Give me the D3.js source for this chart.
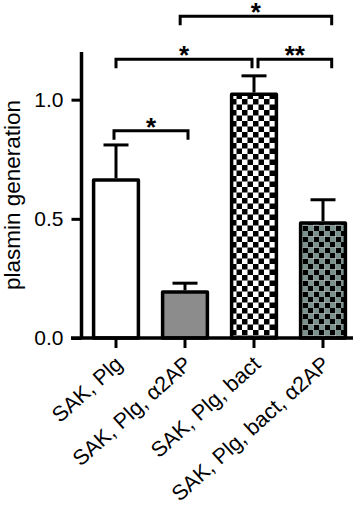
<!DOCTYPE html>
<html>
<head>
<meta charset="utf-8">
<script src="https://cdn.jsdelivr.net/npm/d3@7"></script>
<style>
  html, body { margin: 0; padding: 0; background: #fff; }
  #chart { width: 358px; height: 506px; }
  text { font-family: "Liberation Sans", Arial, Helvetica, sans-serif; fill: #000; }
  .y-tick { font-size: 21px; }
  .axis-label { font-size: 22.5px; }
  .x-label { font-size: 21.5px; }
  .star { font-size: 26px; font-weight: bold; }
</style>
</head>
<body>
<div id="chart"></div>
<script>
const CATEGORIES = ["SAK, Plg", "SAK, Plg, α2AP", "SAK, Plg, bact", "SAK, Plg, bact, α2AP"];
const MEANS = [0.67, 0.20, 1.03, 0.49];
const ERRORS = [0.14, 0.03, 0.07, 0.09];
const Y_TICKS = [0, 0.5, 1.0];
// significance brackets: pair of category indices, height in data units, label
const BRACKET_PAIRS = [[0, 1], [0, 2], [2, 3], [1, 3]];
const BRACKET_LEVELS = [0.87, 1.17, 1.17, 1.35];
const BRACKET_LABELS = ["*", "*", "**", "*"];

const FILLS = ["#ffffff", "#8c8c8c", "url(#check)", "url(#checkGrey)"];

const width = 358;
const height = 506;
const margin = { top: 52, left: 81.5, right: 0.5, bottom: 168 };

const svg = d3.select("#chart")
  .append("svg")
  .attr("width", width)
  .attr("height", height);

const defs = svg.append("defs");

function checker(id, light) {
  const p = defs.append("pattern")
    .attr("id", id)
    .attr("patternUnits", "userSpaceOnUse")
    .attr("width", 11)
    .attr("height", 11);
  p.append("rect").attr("width", 11).attr("height", 11).attr("fill", light);
  p.append("rect").attr("width", 5.5).attr("height", 5.5).attr("fill", "#000");
  p.append("rect").attr("x", 5.5).attr("y", 5.5).attr("width", 5.5).attr("height", 5.5).attr("fill", "#000");
  return p;
}
checker("check", "#ffffff");
const grey = checker("checkGrey", "#7b918d");
grey.append("path")
  .attr("d", "M0,5.5H11M5.5,0V11")
  .attr("stroke", "#c9d3d1")
  .attr("stroke-width", 0.6)
  .attr("fill", "none");

const x = d3.scaleBand()
  .domain(CATEGORIES)
  .range([margin.left, width - margin.right])
  .paddingInner(0.3)
  .paddingOuter(0.15);

const y = d3.scaleLinear()
  .domain([0, 1.2])
  .range([height - margin.bottom, margin.top]);

const y0 = y(0);

// bars
const bw = 3.5;
svg.append("g")
  .selectAll("rect")
  .data(MEANS)
  .join("rect")
  .attr("x", (d, i) => x(CATEGORIES[i]) + bw / 2)
  .attr("y", (d) => y(d) + bw / 2)
  .attr("width", x.bandwidth() - bw)
  .attr("height", (d) => y0 - y(d) - bw / 2)
  .attr("fill", (d, i) => FILLS[i])
  .attr("stroke", "#000")
  .attr("stroke-width", bw)
  .attr("stroke-linejoin", "round");

// error bars (upper only)
const err = svg.append("g")
  .attr("stroke", "#000")
  .attr("stroke-width", 3)
  .attr("fill", "none");

MEANS.forEach((m, i) => {
  const cx = x(CATEGORIES[i]) + x.bandwidth() / 2;
  err.append("line")
    .attr("x1", cx).attr("x2", cx)
    .attr("y1", y(m)).attr("y2", y(m + ERRORS[i]));
  err.append("line")
    .attr("x1", cx - 12.5).attr("x2", cx + 12.5)
    .attr("y1", y(m + ERRORS[i])).attr("y2", y(m + ERRORS[i]));
});

// y axis
const yAxis = svg.append("g")
  .attr("transform", `translate(${margin.left},0)`)
  .call(d3.axisLeft(y).tickValues(Y_TICKS).tickFormat(d3.format(".1f")).tickSize(10).tickPadding(8));
yAxis.attr("font-size", null).attr("font-family", null);
yAxis.select(".domain").attr("stroke-width", 3.5).attr("d", `M0,${y(1.2)}V${y0}`);
yAxis.selectAll(".tick line").attr("stroke-width", 3);
yAxis.selectAll(".tick text").attr("class", "y-tick");

// x axis
const xAxis = svg.append("g")
  .attr("transform", `translate(0,${y0})`)
  .call(d3.axisBottom(x).tickSize(10).tickSizeOuter(0));
xAxis.attr("font-size", null).attr("font-family", null);
xAxis.select(".domain").attr("stroke-width", 3.5).attr("d", `M71,0H353`);
xAxis.selectAll(".tick line").attr("stroke-width", 3);
xAxis.selectAll(".tick text")
  .attr("class", "x-label")
  .attr("y", 0)
  .attr("dy", 0)
  .attr("text-anchor", "end")
  .attr("transform", "translate(8,28) rotate(-42)");

// y label
svg.append("text")
  .attr("class", "axis-label")
  .attr("transform", `translate(20,${(y(0) + y(1.2)) / 2}) rotate(-90)`)
  .attr("text-anchor", "middle")
  .text("plasmin generation");

// significance brackets
const brackets = svg.append("g");
const leg = 9;
BRACKET_PAIRS.forEach(([a, b], i) => {
  const xa = x(CATEGORIES[a]) + x.bandwidth() * (a === 1 && b === 3 ? 0.4 : 0.5) - (i === 0 ? 2 : 0) + (i === 2 ? 4 : 0);
  const xb = x(CATEGORIES[b]) + x.bandwidth() * (b === 3 ? 0.68 : 0.5) + (i === 1 ? -2 : 0) + (i === 0 ? 3 : 0);
  const yl = y(BRACKET_LEVELS[i]);
  brackets.append("path")
    .attr("d", `M${xa},${yl + leg}V${yl}H${xb}V${yl + leg}`)
    .attr("fill", "none")
    .attr("stroke", "#000")
    .attr("stroke-width", 3);
  brackets.append("text")
    .attr("class", "star")
    .attr("x", (xa + xb) / 2)
    .attr("y", yl + 5)
    .attr("text-anchor", "middle")
    .text(BRACKET_LABELS[i]);
});
</script>
</body>
</html>
